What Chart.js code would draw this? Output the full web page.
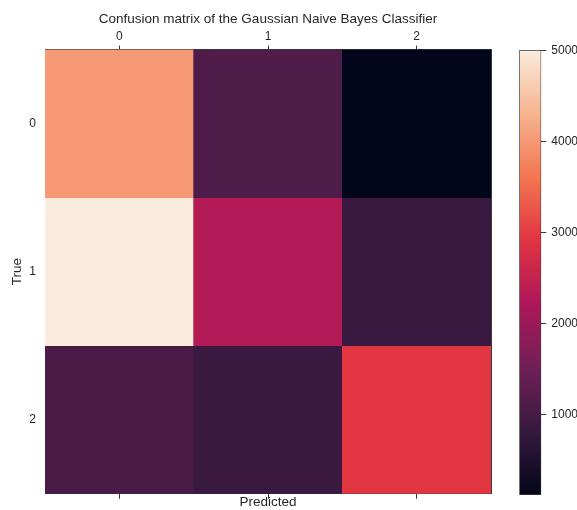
<!DOCTYPE html>
<html>
<head>
<meta charset="utf-8">
<script src="https://cdn.jsdelivr.net/npm/chart.js@4/dist/chart.umd.min.js"></script>
<style>
  html, body { margin: 0; padding: 0; background: #fff; }
  #wrap { position: relative; width: 577px; height: 510px; overflow: hidden; }
  #matrix { position: absolute; left: 0; top: 0; }
  #cbar { position: absolute; left: 500px; top: 0; }
</style>
</head>
<body>
<div id="wrap">
  <canvas id="matrix" width="500" height="510"></canvas>
  <canvas id="cbar" width="77" height="510"></canvas>
</div>
<script>
// class labels (same for true and predicted)
const classLabels = ["0", "1", "2"];
// confusion matrix, one array per true class, columns = predicted class
const trueRow0 = [4010, 1110, 115];
const trueRow1 = [5003, 2310, 860];
const trueRow2 = [1060, 870, 2940];
const colorbarTicks = [1000, 2000, 3000, 4000, 5000];

const matrix = [trueRow0, trueRow1, trueRow2];
const allValues = matrix.flat();
const vmin = Math.min(...allValues);
const vmax = Math.max(...allValues);

// seaborn "rocket" colormap, approximated with a few stops
const rocketStops = [
  [0, "#03051a"],
  [1 / 7, "#35193e"],
  [2 / 7, "#701f57"],
  [3 / 7, "#ad1759"],
  [4 / 7, "#e13342"],
  [5 / 7, "#f37651"],
  [6 / 7, "#f6b48f"],
  [1, "#faebdd"],
];

function hexToRgb(h) {
  const n = parseInt(h.slice(1), 16);
  return [(n >> 16) & 255, (n >> 8) & 255, n & 255];
}

function rocket(v) {
  const t = Math.min(1, Math.max(0, (v - vmin) / (vmax - vmin)));
  for (let i = 1; i < rocketStops.length; i++) {
    const [t1, c1] = rocketStops[i];
    if (t <= t1) {
      const [t0, c0] = rocketStops[i - 1];
      const f = (t - t0) / (t1 - t0);
      const a = hexToRgb(c0);
      const b = hexToRgb(c1);
      const rgb = a.map((x, k) => Math.round(x + (b[k] - x) * f));
      return `rgb(${rgb.join(",")})`;
    }
  }
  return rocketStops[rocketStops.length - 1][1];
}

const textColor = "#262626";
const edgeColor = "#3a3a3a";
const fontFamily = "'Liberation Sans', Arial, sans-serif";
Chart.defaults.font.family = fontFamily;
Chart.defaults.color = textColor;

// each true class is a dataset of floating bars spanning its row
const cellDatasets = matrix.map((row, i) => ({
  label: "True " + classLabels[i],
  data: row.map(() => [i - 0.5, i + 0.5]),
  backgroundColor: row.map(rocket),
  borderWidth: 0,
  barPercentage: 1,
  categoryPercentage: 1,
  grouped: false,
}));

new Chart(document.getElementById("matrix"), {
  type: "bar",
  data: { labels: classLabels, datasets: cellDatasets },
  options: {
    responsive: false,
    animation: false,
    layout: { padding: { left: 0, right: 9, top: 0, bottom: 0 } },
    plugins: { legend: { display: false }, tooltip: { enabled: false } },
    scales: {
      x: {
        type: "category",
        position: "top",
        offset: true,
        grid: { drawOnChartArea: false, offset: false, tickLength: 4, color: edgeColor },
        border: { color: edgeColor, width: 1 },
        ticks: { color: textColor, font: { size: 12 }, padding: 2 },
        title: {
          display: true,
          text: "Confusion matrix of the Gaussian Naive Bayes Classifier",
          color: textColor,
          font: { size: 13.5 },
          padding: { top: 11, bottom: 0 },
        },
        afterFit: (s) => { s.height = 49.5; },
      },
      xBottom: {
        type: "category",
        position: "bottom",
        labels: classLabels,
        offset: true,
        grid: { drawOnChartArea: false, offset: false, tickLength: 5, color: edgeColor },
        border: { color: edgeColor, width: 1 },
        ticks: { display: false },
        title: {
          display: true,
          text: "Predicted",
          color: textColor,
          font: { size: 13.5, lineHeight: 1.0 },
          padding: { top: 0, bottom: 0 },
        },
        afterFit: (s) => { s.height = 15; },
      },
      y: {
        type: "linear",
        position: "left",
        reverse: true,
        min: -0.5,
        max: 2.5,
        afterBuildTicks: (s) => { s.ticks = classLabels.map((_, i) => ({ value: i })); },
        grid: { drawOnChartArea: false, drawTicks: false },
        border: { color: edgeColor, width: 1 },
        ticks: { callback: (v) => classLabels[v], color: textColor, font: { size: 12 }, padding: 9 },
        title: {
          display: true,
          text: "True",
          color: textColor,
          font: { size: 13.5 },
          padding: { top: 9, bottom: 0 },
        },
        afterFit: (s) => { s.width = 45; },
      },
      yRight: {
        type: "linear",
        position: "right",
        min: -0.5,
        max: 2.5,
        grid: { drawOnChartArea: false, drawTicks: false },
        border: { color: edgeColor, width: 1 },
        ticks: { display: false },
        afterFit: (s) => { s.width = 0; },
      },
    },
  },
});

// colorbar
new Chart(document.getElementById("cbar"), {
  type: "bar",
  data: {
    labels: [""],
    datasets: [{
      data: [[vmin, vmax]],
      backgroundColor: (c) => {
        const chart = c.chart;
        const ys = chart.scales.y;
        if (!chart.chartArea || !ys) return rocketStops[0][1];
        const g = chart.ctx.createLinearGradient(0, ys.getPixelForValue(vmin), 0, ys.getPixelForValue(vmax));
        rocketStops.forEach(([t, col]) => g.addColorStop(t, col));
        return g;
      },
      borderColor: edgeColor,
      borderWidth: 1,
      borderSkipped: false,
      barPercentage: 1,
      categoryPercentage: 1,
    }],
  },
  options: {
    responsive: false,
    animation: false,
    layout: { padding: { left: 19.3, right: 0, top: 50, bottom: 15 } },
    plugins: { legend: { display: false }, tooltip: { enabled: false } },
    scales: {
      x: { display: false },
      y: {
        position: "right",
        min: vmin,
        max: vmax,
        afterBuildTicks: (s) => { s.ticks = colorbarTicks.map((v) => ({ value: v })); },
        grid: { drawOnChartArea: false, tickLength: 5, color: edgeColor },
        border: { display: false },
        ticks: { callback: (v) => String(v), color: textColor, font: { size: 12 }, padding: 5 },
        afterFit: (s) => { s.width = 35.7; },
      },
    },
  },
});
</script>
</body>
</html>
